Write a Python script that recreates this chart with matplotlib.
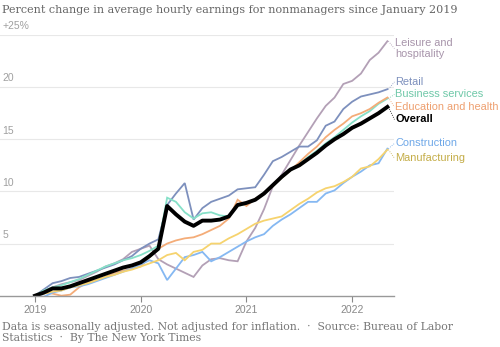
import matplotlib
matplotlib.use("Agg")
import matplotlib.pyplot as plt
import numpy as np

# monthly values, Jan 2019 .. May 2022 (percent change since Jan 2019)
overall = [0, 0.3, 0.7, 0.7, 0.9, 1.2, 1.5, 1.8, 2.1, 2.4, 2.7, 2.9, 3.2, 3.8, 4.5,
           8.6, 7.8, 7.1, 6.7, 7.2, 7.2, 7.3, 7.6, 8.7, 8.9, 9.2, 9.8, 10.6, 11.4,
           12.1, 12.5, 13.1, 13.7, 14.4, 15.0, 15.5, 16.1, 16.5, 17.0, 17.5, 18.1]
leisure = [0, 0.4, 0.8, 1.1, 1.3, 1.5, 1.9, 2.3, 2.8, 3.1, 3.5, 4.2, 4.5, 4.8, 3.5,
           3.0, 2.6, 2.2, 1.8, 2.9, 3.5, 3.6, 3.4, 3.3, 5.2, 6.5, 8.3, 10.5, 11.6,
           13.0, 14.4, 15.7, 17.0, 18.2, 19.0, 20.3, 20.6, 21.3, 22.6, 23.3, 24.4]
retail = [0, 0.6, 1.2, 1.4, 1.7, 1.8, 2.1, 2.4, 2.7, 3.0, 3.4, 3.8, 4.5, 5.0, 5.4,
          8.7, 9.8, 10.8, 7.3, 8.4, 9.0, 9.3, 9.6, 10.2, 10.3, 10.4, 11.6, 12.9, 13.3,
          13.8, 14.3, 14.3, 14.9, 16.3, 16.7, 17.9, 18.6, 19.1, 19.3, 19.5, 19.8]
business = [0, 0.5, 0.8, 1.0, 1.3, 1.6, 2.0, 2.4, 2.8, 3.1, 3.4, 3.6, 3.9, 4.3, 4.8,
            9.4, 9.0, 8.0, 7.4, 7.9, 8.0, 7.7, 7.6, 8.6, 8.8, 9.2, 9.8, 10.5, 11.3,
            12.0, 12.6, 13.3, 13.9, 14.6, 15.2, 15.9, 16.6, 17.2, 17.7, 18.4, 18.9]
education = [0, 0.3, 0.2, 0.0, 0.1, 0.8, 1.3, 1.5, 1.8, 2.2, 2.4, 2.6, 2.8, 3.7, 4.5,
             5.0, 5.3, 5.5, 5.6, 5.9, 6.3, 6.7, 7.4, 9.2, 8.6, 9.3, 9.8, 10.5, 11.3,
             12.0, 12.8, 13.6, 14.3, 15.2, 15.9, 16.5, 17.2, 17.5, 17.9, 18.5, 19.0]
construction = [0, -0.1, 0.3, 0.5, 0.8, 0.9, 1.1, 1.4, 1.7, 2.0, 2.3, 2.6, 3.0, 3.4, 3.1,
                1.5, 2.6, 3.7, 3.9, 4.2, 3.3, 3.7, 4.2, 4.7, 5.2, 5.6, 5.9, 6.7, 7.3,
                7.8, 8.4, 9.0, 9.0, 9.8, 10.1, 10.8, 11.4, 11.9, 12.5, 12.7, 14.1]
manufacturing = [0, 0.2, 0.4, 0.5, 0.8, 1.0, 1.2, 1.5, 1.8, 2.0, 2.3, 2.5, 2.8, 3.1, 3.4,
                 3.9, 4.1, 3.4, 4.2, 4.4, 5.0, 5.0, 5.5, 5.9, 6.4, 6.9, 7.2, 7.4, 7.6,
                 8.2, 8.8, 9.3, 9.9, 10.3, 10.5, 10.9, 11.4, 12.2, 12.4, 13.1, 14.0]

years = [2019, 2020, 2021, 2022]
yticks = [5, 10, 15, 20, 25]
ytick_labels = ["5", "10", "15", "20", "+25%"]

# name, values, line colour, label colour, label y (data units)
series = [
    ("Leisure and\nhospitality", leisure, "#b3a0b6", "#a895ab", 23.7),
    ("Retail", retail, "#7d90bd", "#7d90bd", 20.5),
    ("Business services", business, "#86e0c8", "#6fc8a8", 19.3),
    ("Education and health", education, "#f4ac78", "#eea070", 18.1),
    ("Construction", construction, "#85b8f2", "#6fa8e8", 14.6),
    ("Manufacturing", manufacturing, "#f6d36e", "#c4ad48", 13.2),
]

x = 2019 + np.arange(len(overall)) / 12.0

fig = plt.figure(figsize=(5, 3.47), dpi=100)
ax = fig.add_axes([0.0, 0.1478, 0.788, 0.7514])

for name, vals, c, tc, ly in series:
    ax.plot(x, vals, color=c, lw=1.3, solid_joinstyle="miter")
ax.plot(x, overall, color="black", lw=2.8)

ax.set_xlim(2018.669, 2022.396)
ax.set_ylim(0, 25)

for v, lab in zip(yticks, ytick_labels):
    ax.axhline(v, color="#e8e8e8", lw=0.8, zorder=0)
    ax.text(2018.69, v + 0.35, lab, fontsize=7.5, color="#a0a0a0",
            family="Liberation Sans", va="bottom", ha="left")

ax.set_yticks([])
ax.set_xticks(years)
ax.set_xticklabels([str(y) for y in years], fontsize=7.5, color="#888888",
                   family="Liberation Sans")
ax.tick_params(axis="x", length=4, width=0.8, color="#888888", pad=3)
for s in ["top", "right", "left"]:
    ax.spines[s].set_visible(False)
ax.spines["bottom"].set_color("#999999")
ax.spines["bottom"].set_linewidth(1.0)

# right-side labels with small dotted leaders
xe = x[-1]
lx = 2022.41
for name, vals, c, tc, ly in series:
    ax.text(lx, ly, name, fontsize=7.9, color=tc, family="Liberation Sans",
            va="center", ha="left", clip_on=False, linespacing=1.1)
    ax.plot([xe + 0.01, lx - 0.01], [vals[-1], ly], color=tc, lw=0.6,
            ls=":", clip_on=False)
ax.text(lx, 16.9, "Overall", fontsize=7.9, color="black", family="Liberation Sans",
        weight="bold", va="center", ha="left", clip_on=False)
ax.plot([xe + 0.01, lx - 0.01], [overall[-1], 16.9], color="black", lw=0.6,
        ls=":", clip_on=False)

fig.text(0.004, 0.970, "Percent change in average hourly earnings for nonmanagers since January 2019",
         fontsize=8.0, color="#666666", family="DejaVu Serif", va="center", ha="left")
fig.text(0.004, 0.042,
         "Data is seasonally adjusted. Not adjusted for inflation.  \u00b7  Source: Bureau of Labor\n"
         "Statistics  \u00b7  By The New York Times",
         fontsize=7.8, color="#777777", family="DejaVu Serif", va="center", ha="left",
         linespacing=1.15)

fig.savefig("out.png", dpi=100)
